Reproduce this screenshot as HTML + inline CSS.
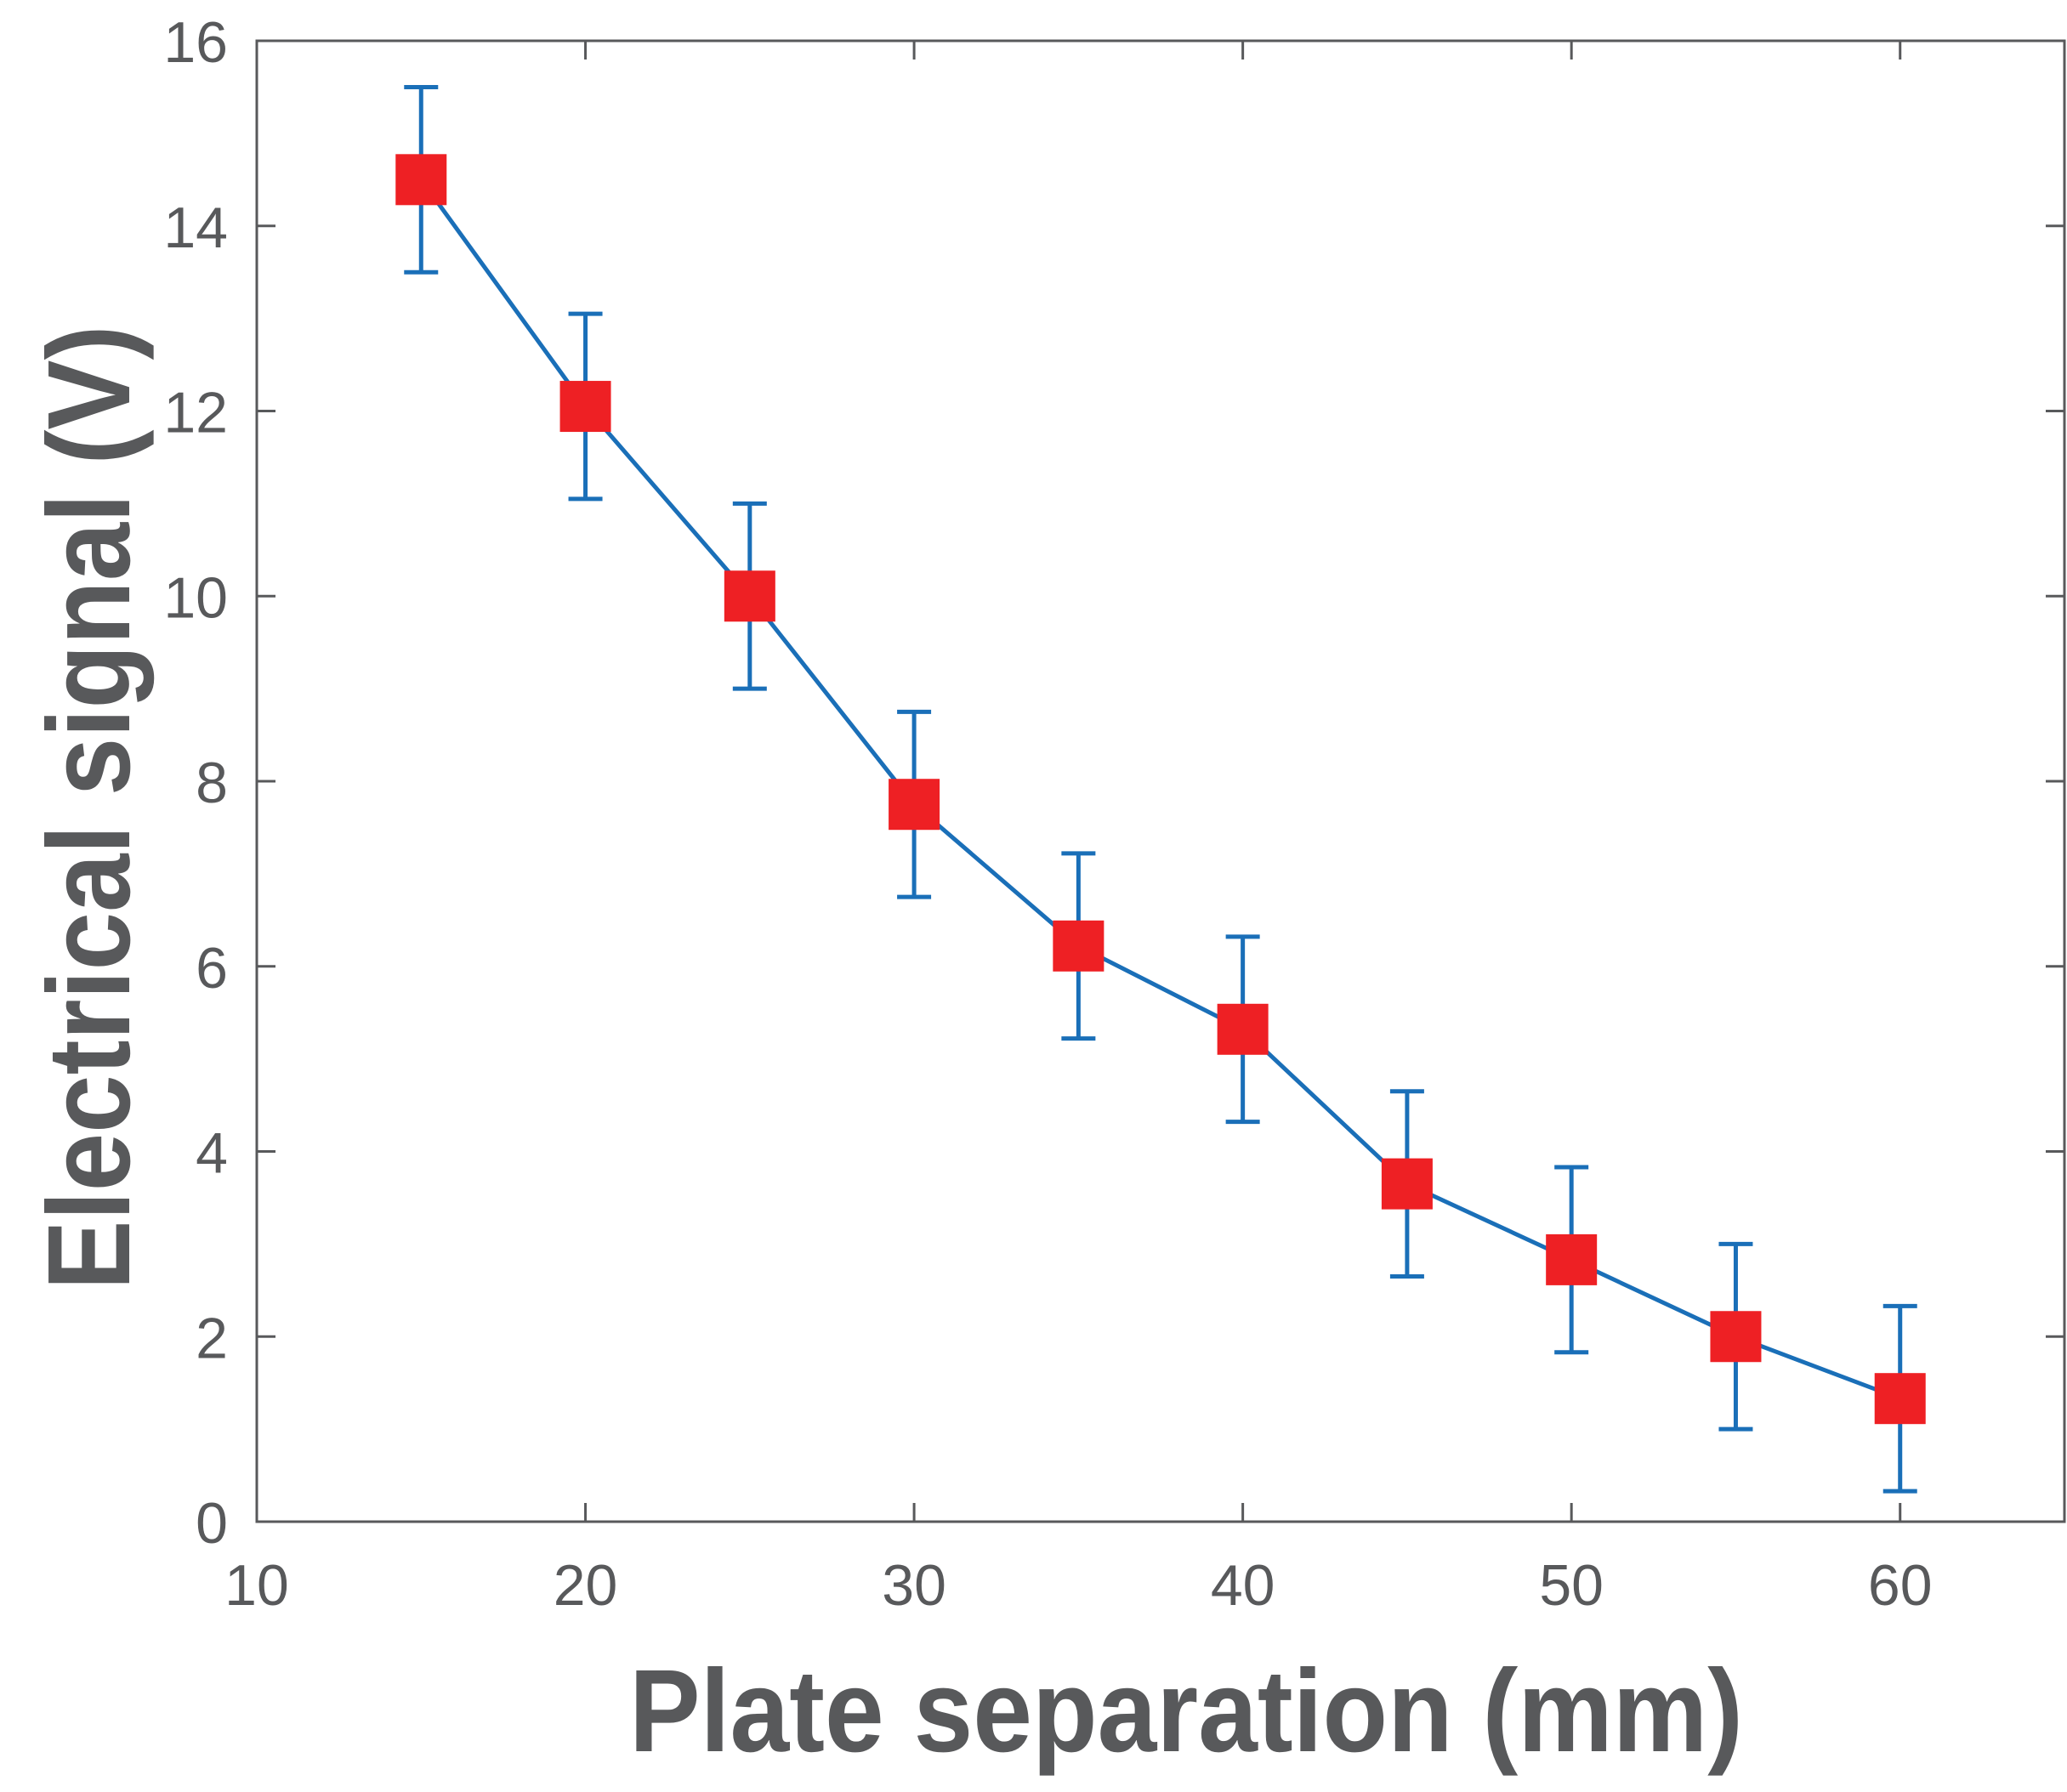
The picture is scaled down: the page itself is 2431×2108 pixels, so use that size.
<!DOCTYPE html>
<html><head><meta charset="utf-8"><style>
html,body{margin:0;padding:0;background:#fff;}
svg{display:block;}
text{font-family:"Liberation Sans",sans-serif;fill:#58595b;}
</style></head><body>
<svg id="chart" width="2431" height="2108" viewBox="0 0 2431 2108" xmlns="http://www.w3.org/2000/svg">
<g id="axes"></g>
<g id="series"></g>
<text x="1395" y="2060" text-anchor="middle" font-size="138" font-weight="bold" textLength="1310" lengthAdjust="spacingAndGlyphs">Plate separation (mm)</text>
<text transform="translate(152,950) rotate(-90)" text-anchor="middle" font-size="138" font-weight="bold" textLength="1135" lengthAdjust="spacingAndGlyphs">Electrical signal (V)</text>
</svg>
<script>
const xValues = [15,20,25,30,35,40,45,50,55,60];
const yValues = [14.5,12.05,10.0,7.75,6.22,5.32,3.65,2.83,2.0,1.33];
const yErrors = [1.0,1.0,1.0,1.0,1.0,1.0,1.0,1.0,1.0,1.0];
const xTicks = [10,20,30,40,50,60];
const yTicks = [0,2,4,6,8,10,12,14,16];

const L=302,R=2428,T=48,B=1790;
const xMin=10,xMax=65,yMin=0,yMax=16;
function sx(v){return L+(v-xMin)/(xMax-xMin)*(R-L);}
function sy(v){return B-(v-yMin)/(yMax-yMin)*(B-T);}
const NS="http://www.w3.org/2000/svg";
function mk(tag,attrs,parent){const e=document.createElementNS(NS,tag);for(const k in attrs)e.setAttribute(k,attrs[k]);parent.appendChild(e);return e;}
const axes=document.getElementById('axes');
const frame=mk('rect',{x:L,y:T,width:R-L,height:B-T,fill:'none',stroke:'#58595b','stroke-width':3},axes);


xTicks.forEach(t=>{
  const x=sx(t);
  const tk=mk('path',{d:`M${x},${B}v-22M${x},${T}v22`,stroke:'#58595b','stroke-width':3},axes);
  
  
  const lb=mk('text',{x:x,y:B+98,'text-anchor':'middle','font-size':68},axes);
  lb.textContent=t;
  
  
});
yTicks.forEach(t=>{
  const y=sy(t);
  const tk=mk('path',{d:`M${L},${y}h22M${R},${y}h-22`,stroke:'#58595b','stroke-width':3},axes);
  
  
  const lb=mk('text',{x:268,y:y+25,'text-anchor':'end','font-size':68},axes);
  lb.textContent=t;
  
  
});
const series=document.getElementById('series');
const line=mk('polyline',{points:xValues.map((v,i)=>sx(v)+','+sy(yValues[i])).join(' '),fill:'none',stroke:'#1a6fb8','stroke-width':5},series);


xValues.forEach((v,i)=>{
  const x=sx(v),y1=sy(yValues[i]+yErrors[i]),y2=sy(yValues[i]-yErrors[i]);
  const eb=mk('path',{d:`M${x},${y1}V${y2}M${x-20},${y1}h40M${x-20},${y2}h40`,stroke:'#1a6fb8','stroke-width':5,fill:'none'},series);
  
  
});
xValues.forEach((v,i)=>{
  const x=sx(v),y=sy(yValues[i]);
  const m=mk('rect',{x:x-30,y:y-30,width:60,height:60,fill:'#ee2024'},series);
  
  
});
</script>
</body></html>
